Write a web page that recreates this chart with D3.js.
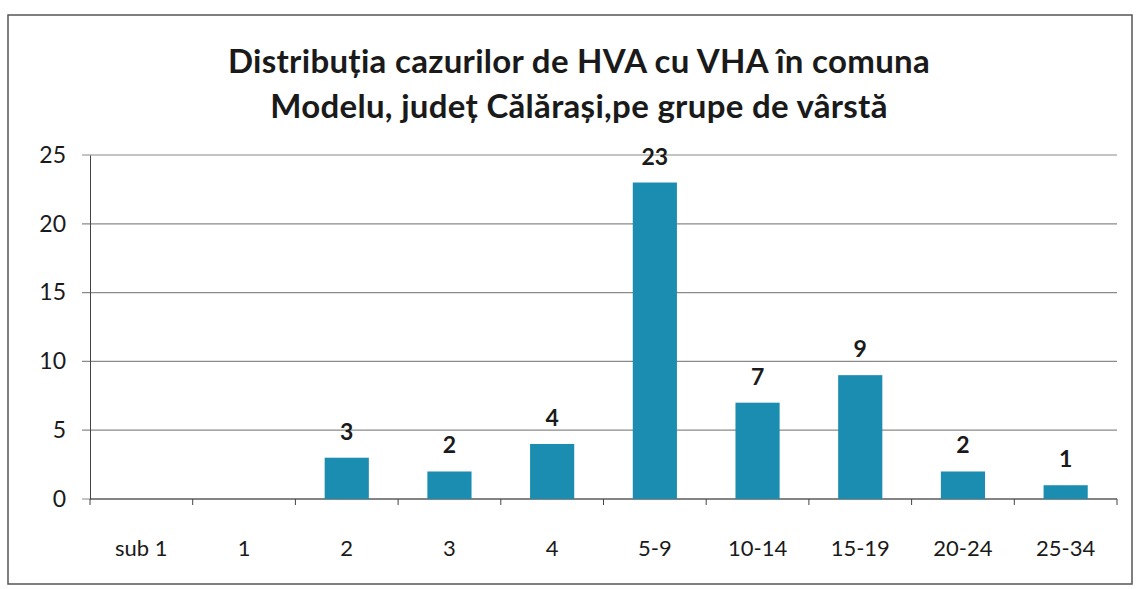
<!DOCTYPE html>
<html>
<head>
<meta charset="utf-8">
<script src="https://cdn.jsdelivr.net/npm/d3@7"></script>
<style>
  body { margin: 0; background: #fff; }
  text { font-family: Lato, "Open Sans", sans-serif; fill: #1a1a1a; }
</style>
</head>
<body>
<svg id="chart" width="1137" height="589"></svg>
<script>
// data
var categories = ['sub 1', '1', '2', '3', '4', '5-9', '10-14', '15-19', '20-24', '25-34'];
var cases = [0, 0, 3, 2, 4, 23, 7, 9, 2, 1];
var yTicks = [0, 5, 10, 15, 20, 25];
var titleLines = ['Distribuția cazurilor de HVA cu VHA în comuna', 'Modelu, județ Călărași,pe grupe de vârstă'];

var data = categories.map(function (c, i) { return { cat: c, val: cases[i] }; });

var margin = { top: 155, right: 20, bottom: 90, left: 90 },
    width = 1117 - margin.left,
    height = 499 - margin.top;

var svg = d3.select('#chart');

// outer frame
svg.append('rect')
    .attr('x', 8).attr('y', 15)
    .attr('width', 1124).attr('height', 569)
    .attr('fill', 'none')
    .attr('stroke', '#555')
    .attr('stroke-width', 1.5);

// title
svg.selectAll('.title')
    .data(titleLines)
    .enter()
    .append('text')
    .attr('class', 'title')
    .attr('x', 579)
    .attr('y', function (d, i) { return 73 + i * 45; })
    .attr('text-anchor', 'middle')
    .style('font-size', '33px')
    .style('font-weight', 'bold')
    .style('letter-spacing', '0.3px')
    .text(function (d) { return d; });

var g = svg.append('g')
    .attr('transform', 'translate(' + margin.left + ',' + margin.top + ')');

var xScale = d3.scaleBand()
    .domain(categories)
    .range([0, width])
    .paddingInner(0.57)
    .paddingOuter(0.285);

var yScale = d3.scaleLinear()
    .domain([0, 25])
    .range([height, 0]);

// gridlines
g.selectAll('.grid')
    .data(yTicks)
    .enter()
    .append('line')
    .attr('x1', -8)
    .attr('x2', width)
    .attr('y1', function (d) { return yScale(d); })
    .attr('y2', function (d) { return yScale(d); })
    .attr('stroke', '#8a8a8a')
    .attr('stroke-width', 1.2);

// y axis
var yAxis = d3.axisLeft(yScale).tickValues(yTicks).tickSize(0).tickPadding(24);
var yAxisEl = g.append('g').call(yAxis);
yAxisEl.select('.domain').attr('stroke', '#444');
yAxisEl.selectAll('text').style('font-size', '23px');

// x axis with ticks between categories
var xAxisEl = g.append('g').attr('transform', 'translate(0,' + height + ')');
xAxisEl.append('line')
    .attr('x1', 0).attr('x2', width)
    .attr('stroke', '#444').attr('stroke-width', 1.2);
var bounds = d3.range(categories.length + 1).map(function (i) { return i * width / categories.length; });
xAxisEl.selectAll('.tick')
    .data(bounds)
    .enter()
    .append('line')
    .attr('x1', function (d) { return d; })
    .attr('x2', function (d) { return d; })
    .attr('y1', 0).attr('y2', 6)
    .attr('stroke', '#444');
xAxisEl.selectAll('.xlabel')
    .data(categories)
    .enter()
    .append('text')
    .attr('x', function (d) { return xScale(d) + xScale.bandwidth() / 2; })
    .attr('y', 57)
    .attr('text-anchor', 'middle')
    .style('font-size', '22px')
    .text(function (d) { return d; });

// bars
var bars = data.filter(function (d) { return d.val > 0; });
g.selectAll('.bar')
    .data(bars)
    .enter()
    .append('rect')
    .attr('x', function (d) { return xScale(d.cat); })
    .attr('width', xScale.bandwidth())
    .attr('y', function (d) { return yScale(d.val); })
    .attr('height', function (d) { return height - yScale(d.val); })
    .attr('fill', '#1b8db0');

// value labels
g.selectAll('.lbl')
    .data(bars)
    .enter()
    .append('text')
    .attr('x', function (d) { return xScale(d.cat) + xScale.bandwidth() / 2; })
    .attr('y', function (d) { return yScale(d.val) - 18; })
    .attr('text-anchor', 'middle')
    .style('font-size', '23px')
    .style('font-weight', 'bold')
    .text(function (d) { return d.val; });
</script>
</body>
</html>
